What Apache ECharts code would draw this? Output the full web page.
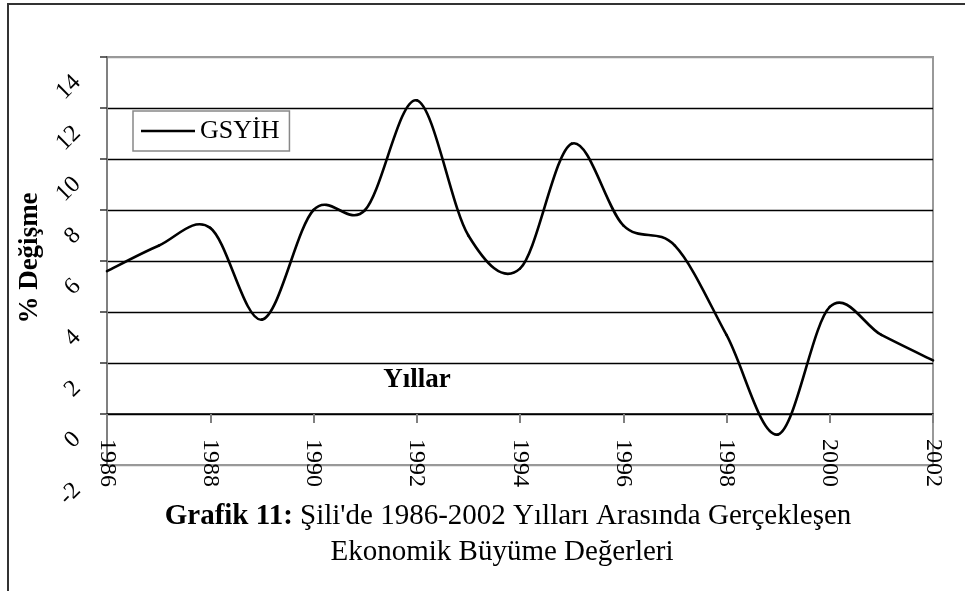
<!DOCTYPE html>
<html>
<head>
<meta charset="utf-8">
<script src="https://cdn.jsdelivr.net/npm/echarts@6/dist/echarts.min.js"></script>
<style>
	html, body { margin: 0; padding: 0; background: #fff; }
	#chart { width: 965px; height: 591px; }
</style>
</head>
<body>
<div id="chart"></div>
<script type="text/javascript">
	// yıllar ve GSYİH büyüme oranları (%)
	var years = [1986, 1987, 1988, 1989, 1990, 1991, 1992, 1993, 1994, 1995, 1996, 1997, 1998, 1999, 2000, 2001, 2002];
	var gsyih = [5.6, 6.6, 7.3, 3.7, 8.0, 8.0, 12.3, 7.0, 5.7, 10.6, 7.4, 6.6, 3.1, -0.8, 4.2, 3.1, 2.1];
	var yMin = -2, yMax = 14, yStep = 2;
	var xMin = 1986, xMax = 2002, xStep = 2;

	var serif = 'Liberation Serif, Times New Roman, serif';
	var points = years.map(function (y, i) { return [y, gsyih[i]]; });

	// split line colours: bottom and top edges gray, others black
	var splitColors = [];
	for (var v = yMin; v <= yMax; v += yStep) {
		splitColors.push(v === yMin || v === yMax ? '#999' : '#000');
	}

	// Excel tarzı yumuşatılmış çizgi (Catmull-Rom -> bezier)
	function renderSmooth(params, api) {
		if (params.dataIndex !== 0) return null;
		var p = points.map(function (d) { return api.coord(d); });
		var n = p.length, kids = [];
		for (var i = 0; i < n - 1; i++) {
			var p0 = p[Math.max(i - 1, 0)], p1 = p[i], p2 = p[i + 1], p3 = p[Math.min(i + 2, n - 1)];
			kids.push({
				type: 'bezierCurve',
				shape: {
					x1: p1[0], y1: p1[1], x2: p2[0], y2: p2[1],
					cpx1: p1[0] + (p2[0] - p0[0]) / 6, cpy1: p1[1] + (p2[1] - p0[1]) / 6,
					cpx2: p2[0] - (p3[0] - p1[0]) / 6, cpy2: p2[1] - (p3[1] - p1[1]) / 6
				},
				style: { fill: null, stroke: '#000', lineWidth: 2.6, lineCap: 'round', lineJoin: 'round' }
			});
		}
		return { type: 'group', children: kids };
	}

	var myChart = echarts.init(document.getElementById('chart'), null, {renderer: 'canvas'});
	var option = {
		backgroundColor: '#fff',
		animation: false,
		textStyle: { fontFamily: serif, color: '#000' },
		graphic: [{
			type: 'rect',
			shape: { x: 8, y: 4, width: 1200, height: 1200 },
			style: { fill: 'none', stroke: '#333', lineWidth: 2 },
			silent: true
		}, {
			type: 'text',
			x: 417, y: 380,
			style: { text: 'Yıllar', font: 'bold 27px ' + serif, fill: '#000', align: 'center', verticalAlign: 'middle' },
			silent: true
		}, {
			type: 'text',
			x: 30, y: 258, rotation: Math.PI / 2,
			style: { text: '% Değişme', font: 'bold 27px ' + serif, fill: '#000', align: 'center', verticalAlign: 'middle' },
			silent: true
		}],
		title: [{
			text: '{b|Grafik 11:} Şili\'de 1986-2002 Yılları Arasında Gerçekleşen',
			left: 503, top: 497, textAlign: 'center',
			textStyle: {
				fontFamily: serif, fontSize: 29, fontWeight: 'normal', color: '#000',
				rich: { b: { fontFamily: serif, fontSize: 29, fontWeight: 'bold', color: '#000' } }
			}
		}, {
			text: 'Ekonomik Büyüme Değerleri',
			left: 497, top: 533, textAlign: 'center',
			textStyle: { fontFamily: serif, fontSize: 29, fontWeight: 'normal', color: '#000' }
		}],
		legend: {
			data: [{ name: 'GSYİH', icon: 'rect' }],
			left: 133, top: 111,
			orient: 'vertical',
			padding: [7, 10, 7, 8],
			backgroundColor: '#fff',
			borderColor: '#888',
			borderWidth: 1.5,
			itemWidth: 54,
			itemHeight: 2.6,
			itemStyle: { color: '#000' },
			textStyle: { fontFamily: serif, fontSize: 26, color: '#000' }
		},
		grid: {
			left: 107, top: 57, right: 32, bottom: 126,
			show: true, borderColor: '#999', borderWidth: 2
		},
		xAxis: {
			type: 'value',
			min: xMin, max: xMax, interval: xStep,
			axisLine: { onZero: true, lineStyle: { color: '#000', width: 1.5 } },
			axisTick: { length: 9, lineStyle: { color: '#808080', width: 2 } },
			axisLabel: {
				rotate: -90, margin: -26,
				fontFamily: serif, fontSize: 24, color: '#000',
				formatter: function (v) { return String(v); }
			},
			splitLine: { show: false }
		},
		yAxis: {
			type: 'value',
			min: yMin, max: yMax, interval: yStep,
			axisLine: { show: true, lineStyle: { color: '#808080', width: 2 } },
			axisTick: { show: true, length: 7, lineStyle: { color: '#333', width: 1.5 } },
			axisLabel: {
				rotate: 45, margin: 8,
				align: 'right', verticalAlign: 'middle',
				padding: [0, 31, 0, 0],
				fontFamily: serif, fontSize: 24, color: '#000'
			},
			splitLine: { show: true, lineStyle: { color: splitColors, width: 1.3 } }
		},
		series: [{
			name: 'GSYİH',
			type: 'custom',
			data: points,
			encode: { x: 0, y: 1 },
			renderItem: renderSmooth,
			itemStyle: { color: '#000' },
			z: 5
		}]
	};
	myChart.setOption(option);
</script>
</body>
</html>
